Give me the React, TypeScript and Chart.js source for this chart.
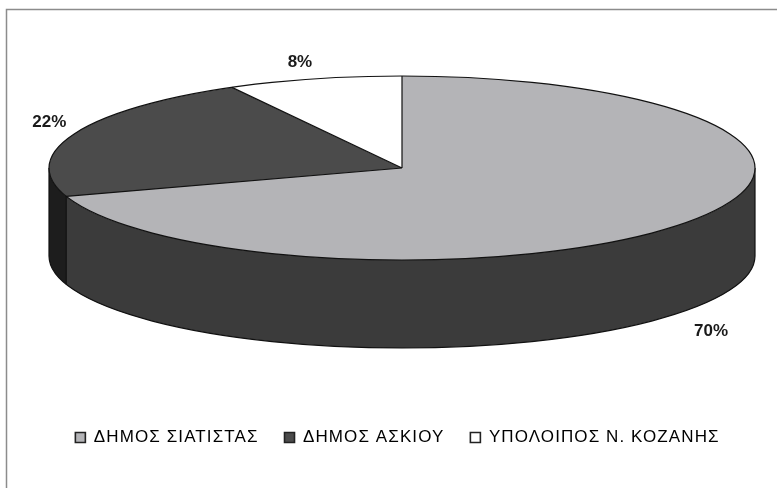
import React, { useEffect, useRef } from "react";
import { Chart, registerables } from "chart.js";
Chart.register(...registerables);

const categories = ["ΔΗΜΟΣ ΣΙΑΤΙΣΤΑΣ", "ΔΗΜΟΣ ΑΣΚΙΟΥ", "ΥΠΟΛΟΙΠΟΣ Ν. ΚΟΖΑΝΗΣ"];
const shares = [70, 22, 8];
const percentLabels = ["70%", "22%", "8%"];
const topColors = ["#b4b4b7", "#4b4b4b", "#ffffff"];
const sideColors = ["#3b3b3b", "#1d1d1d", "#cfcfcf"];

const W = 777;
const H = 488;
const CX = 402;
const CY = 168;
const RX = 353;
const RY = 92;
const DEPTH = 88;
const LEGEND_SPACING = "1.1px";

function frontIntervals(s: number, e: number): [number, number][] {
  const out: [number, number][] = [];
  for (const k of [-1, 0, 1]) {
    const a = Math.max(s + k * 2 * Math.PI, 0);
    const b = Math.min(e + k * 2 * Math.PI, Math.PI);
    if (b > a) out.push([a, b]);
  }
  return out;
}

const pie3d = {
  id: "pie3d",
  beforeLayout(chart: any) {
    (chart.ctx as any).letterSpacing = LEGEND_SPACING;
  },
  afterLayout(chart: any) {
    (chart.ctx as any).letterSpacing = "0px";
  },
  beforeDraw(chart: any) {
    const ctx = chart.ctx;
    ctx.save();
    ctx.strokeStyle = "#8c8c8c";
    ctx.lineWidth = 1.5;
    ctx.beginPath();
    ctx.moveTo(6.5, H);
    ctx.lineTo(6.5, 9.5);
    ctx.lineTo(W, 9.5);
    ctx.stroke();
    ctx.restore();
    (ctx as any).letterSpacing = LEGEND_SPACING;
  },
  beforeDatasetsDraw(chart: any) {
    const ctx = chart.ctx;
    (ctx as any).letterSpacing = "0px";
    const arcs = chart.getDatasetMeta(0).data;
    ctx.save();
    arcs.forEach((arc: any, i: number) => {
      const p = arc.getProps(["startAngle", "endAngle"], true);
      frontIntervals(p.startAngle, p.endAngle).forEach(([a, b]) => {
        ctx.beginPath();
        ctx.ellipse(CX, CY, RX, RY, 0, a, b, false);
        ctx.ellipse(CX, CY + DEPTH, RX, RY, 0, b, a, true);
        ctx.closePath();
        ctx.fillStyle = sideColors[i];
        ctx.fill();
      });
    });
    ctx.strokeStyle = "#111";
    ctx.lineWidth = 1.2;
    ctx.beginPath();
    ctx.moveTo(CX + RX, CY);
    ctx.lineTo(CX + RX, CY + DEPTH);
    ctx.moveTo(CX - RX, CY);
    ctx.lineTo(CX - RX, CY + DEPTH);
    arcs.forEach((arc: any) => {
      const p = arc.getProps(["startAngle"], true);
      let t = p.startAngle % (2 * Math.PI);
      if (t < 0) t += 2 * Math.PI;
      if (t > 0 && t < Math.PI) {
        const x = CX + RX * Math.cos(t);
        const y = CY + RY * Math.sin(t);
        ctx.moveTo(x, y);
        ctx.lineTo(x, y + DEPTH);
      }
    });
    ctx.stroke();
    ctx.beginPath();
    ctx.ellipse(CX, CY + DEPTH, RX, RY, 0, 0, Math.PI, false);
    ctx.stroke();
    ctx.restore();

    const a0 = arcs[0].getProps(["x", "y", "outerRadius"], true);
    ctx.save();
    ctx.translate(CX, CY);
    ctx.scale(RX / a0.outerRadius, RY / a0.outerRadius);
    ctx.translate(-a0.x, -a0.y);
  },
  afterDatasetsDraw(chart: any) {
    const ctx = chart.ctx;
    ctx.restore();
    const arcs = chart.getDatasetMeta(0).data;
    ctx.save();
    ctx.strokeStyle = "#111";
    ctx.lineWidth = 1.2;
    ctx.beginPath();
    ctx.ellipse(CX, CY, RX, RY, 0, 0, 2 * Math.PI);
    ctx.stroke();
    ctx.beginPath();
    arcs.forEach((arc: any) => {
      const p = arc.getProps(["startAngle"], true);
      ctx.moveTo(CX, CY);
      ctx.lineTo(CX + RX * Math.cos(p.startAngle), CY + RY * Math.sin(p.startAngle));
    });
    ctx.stroke();

    ctx.fillStyle = "#1a1a1a";
    ctx.font = 'bold 17px Arial, "Liberation Sans", sans-serif';
    arcs.forEach((arc: any, i: number) => {
      const p = arc.getProps(["startAngle", "endAngle"], true);
      const m = (p.startAngle + p.endAngle) / 2;
      const c = Math.cos(m);
      const s = Math.sin(m);
      const x = CX + RX * c + 8 * c;
      let y = CY + RY * s + 8 * s;
      if (s > 0) y += DEPTH + 8;
      ctx.textAlign = c > 0.15 ? "left" : c < -0.15 ? "right" : "center";
      ctx.textBaseline = s > 0 ? "top" : "bottom";
      ctx.fillText(percentLabels[i], x, y);
    });
    ctx.restore();
  },
};

export default function App() {
  const ref = useRef<HTMLCanvasElement | null>(null);
  useEffect(() => {
    document.body.style.margin = "0";
    const chart = new Chart(ref.current as HTMLCanvasElement, {
      type: "pie",
      data: {
        labels: categories,
        datasets: [
          {
            data: shares,
            backgroundColor: topColors,
            borderWidth: 0,
            clip: false,
          } as any,
        ],
      },
      options: {
        animation: false,
        responsive: false,
        events: [],
        layout: { padding: { bottom: 32, left: 18 } },
        plugins: {
          tooltip: { enabled: false },
          legend: {
            position: "bottom",
            labels: {
              boxWidth: 10,
              boxHeight: 10,
              padding: 26,
              color: "#111",
              font: { family: 'Arial, "Liberation Sans", sans-serif', size: 17 },
              generateLabels: () =>
                categories.map((c, i) => ({
                  text: c,
                  fillStyle: topColors[i],
                  strokeStyle: "#222",
                  lineWidth: 1.6,
                  hidden: false,
                  index: i,
                  datasetIndex: 0,
                })),
            },
          },
        },
      },
      plugins: [pie3d],
    });
    return () => chart.destroy();
  }, []);
  return (
    <div style={{ width: W, height: H }}>
      <canvas ref={ref} width={W} height={H} style={{ display: "block" }} />
    </div>
  );
}
